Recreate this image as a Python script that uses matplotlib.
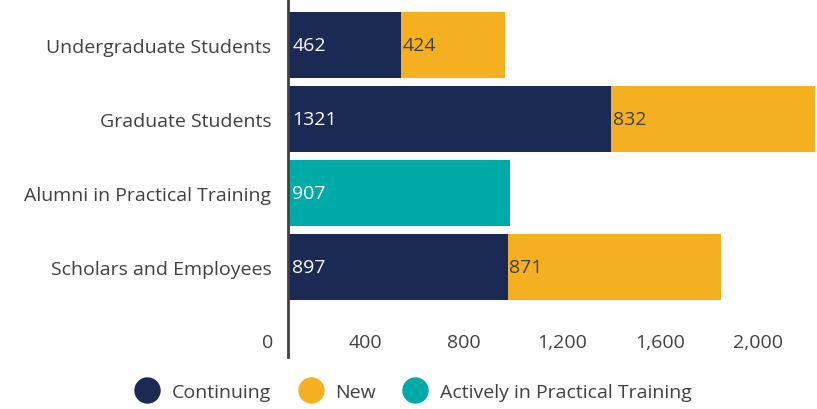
import matplotlib.pyplot as plt
import matplotlib.transforms as mtransforms
from matplotlib.lines import Line2D

categories = ["Undergraduate Students", "Graduate Students",
              "Alumni in Practical Training", "Scholars and Employees"]
continuing = [462, 1321, 0, 897]
new = [424, 832, 0, 871]
practical = [0, 0, 907, 0]
xticks = [0, 400, 800, 1200, 1600, 2000]
xtick_labels = ["0", "400", "800", "1,200", "1,600", "2,000"]

navy = "#1B2955"
orange = "#F5B021"
teal = "#00AAA6"
grey = "#404040"

plt.rcParams["font.family"] = ["Open Sans", "DejaVu Sans"]
fs = 14

fig = plt.figure(figsize=(8.17, 4.10), dpi=100)
ax = fig.add_axes([288 / 817, 52 / 410, 529 / 817, 358 / 410])

y = list(range(len(categories)))
h = 0.89
ax.barh(y, continuing, height=h, color=navy)
ax.barh(y, new, left=continuing, height=h, color=orange)
ax.barh(y, practical, height=h, color=teal)

for i in y:
    if continuing[i]:
        ax.text(18, i, str(continuing[i]), color="white", va="center", ha="left", fontsize=fs)
    if new[i]:
        ax.text(continuing[i] + 6, i, str(new[i]), color=grey, va="center", ha="left", fontsize=fs)
    if practical[i]:
        ax.text(18, i, str(practical[i]), color="white", va="center", ha="left", fontsize=fs)

ax.set_xlim(0, 2161)
ax.set_ylim(4.22, -0.62)
ax.set_yticks(y)
ax.set_yticklabels(categories, fontsize=fs, color=grey)
ax.set_xticks(xticks)
ax.set_xticklabels(xtick_labels, fontsize=fs, color=grey)
ax.tick_params(length=0)
ax.tick_params(axis="y", pad=12)
ax.tick_params(axis="x", pad=-17)

# tick labels sit a little left of their values in the reference
shift = mtransforms.ScaledTranslation(-20 / 100, 0, fig.dpi_scale_trans)
for lbl in ax.get_xticklabels():
    lbl.set_transform(lbl.get_transform() + shift)

for s in ["top", "right", "bottom"]:
    ax.spines[s].set_visible(False)
ax.spines["left"].set_color(grey)
ax.spines["left"].set_linewidth(2)

handles = [Line2D([], [], marker="o", ls="", markersize=18, color=c)
           for c in (navy, orange, teal)]
fig.legend(handles, ["Continuing", "New", "Actively in Practical Training"],
           loc="center", bbox_to_anchor=(412 / 817, 17 / 410), ncol=3, frameon=False,
           fontsize=fs, labelcolor=grey, handletextpad=0.5, columnspacing=1.3,
           handlelength=1.5)

fig.savefig("out.png", dpi=100)
